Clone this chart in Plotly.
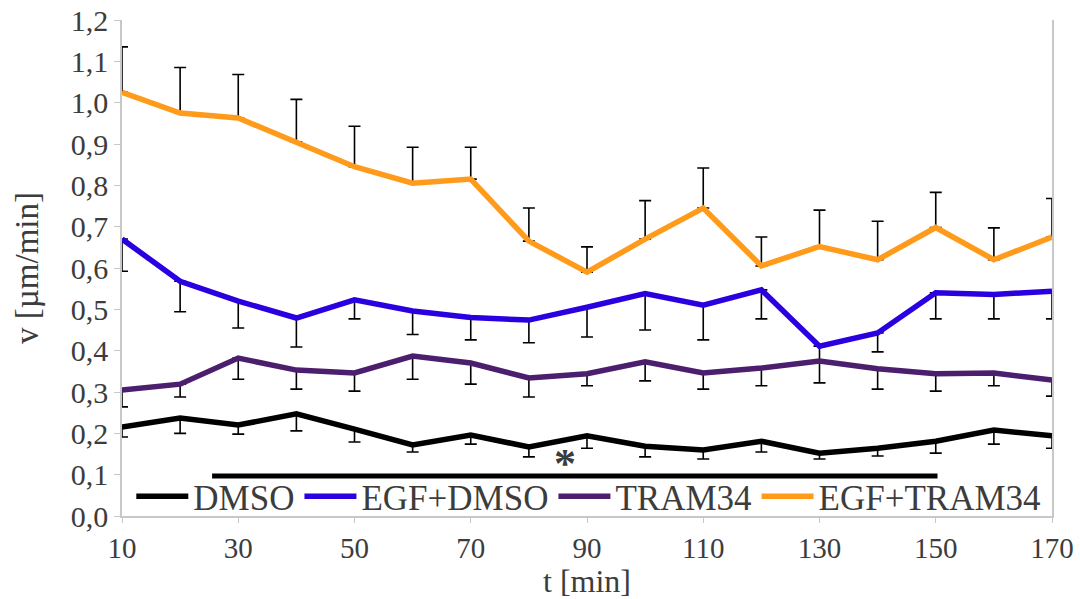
import plotly.graph_objects as go

t = [10, 20, 30, 40, 50, 60, 70, 80, 90, 100, 110, 120, 130, 140, 150, 160, 170]

dmso = [0.215, 0.237, 0.220, 0.247, 0.210, 0.172, 0.196, 0.167, 0.194, 0.169, 0.160, 0.181, 0.152, 0.164, 0.181, 0.208, 0.194]
dmso_low = [0.191, 0.200, 0.198, 0.206, 0.179, 0.155, 0.174, 0.143, 0.164, 0.143, 0.138, 0.155, 0.138, 0.145, 0.152, 0.174, 0.164]

egf_dmso = [0.670, 0.568, 0.520, 0.479, 0.523, 0.496, 0.480, 0.474, 0.505, 0.538, 0.510, 0.547, 0.411, 0.443, 0.540, 0.536, 0.544]
egf_dmso_low = [0.592, 0.494, 0.455, 0.409, 0.477, 0.439, 0.426, 0.419, 0.433, 0.450, 0.426, 0.477, 0.375, 0.397, 0.477, 0.477, 0.477]

tram34 = [0.305, 0.319, 0.382, 0.353, 0.346, 0.387, 0.370, 0.334, 0.344, 0.373, 0.346, 0.358, 0.375, 0.356, 0.344, 0.346, 0.329]
tram34_low = [0.264, 0.288, 0.331, 0.307, 0.302, 0.331, 0.319, 0.288, 0.315, 0.327, 0.307, 0.315, 0.322, 0.307, 0.302, 0.315, 0.290]

egf_tram34 = [1.025, 0.975, 0.963, 0.905, 0.845, 0.805, 0.815, 0.665, 0.590, 0.670, 0.745, 0.605, 0.652, 0.620, 0.698, 0.620, 0.675]
egf_tram34_high = [1.135, 1.085, 1.068, 1.008, 0.943, 0.892, 0.892, 0.745, 0.651, 0.763, 0.842, 0.675, 0.740, 0.713, 0.783, 0.697, 0.768]

sig_x = [25.5, 150.3]
sig_y = [0.097, 0.097]
sig_label = "*"
sig_label_pos = (86.2, 0.128)

names = ["DMSO", "EGF+DMSO", "TRAM34", "EGF+TRAM34"]
colors = ["#000000", "#2a00e0", "#4b1f6e", "#ff9a1a"]

TEXT = "#3c3c3c"
FONT = "Liberation Serif"

fig = go.Figure()

def add(y, name, color, plus=None, minus=None):
    ey = dict(type="data", symmetric=False, color="#000000", thickness=1.6, width=6,
              array=plus if plus is not None else [0] * len(y),
              arrayminus=minus if minus is not None else [0] * len(y))
    fig.add_trace(go.Scatter(x=t, y=y, mode="lines", name=name,
                             line=dict(color=color, width=5.5), error_y=ey))

add(dmso, names[0], colors[0], minus=[a - b for a, b in zip(dmso, dmso_low)])
add(egf_dmso, names[1], colors[1], minus=[a - b for a, b in zip(egf_dmso, egf_dmso_low)])
add(tram34, names[2], colors[2], minus=[a - b for a, b in zip(tram34, tram34_low)])
add(egf_tram34, names[3], colors[3], plus=[b - a for a, b in zip(egf_tram34, egf_tram34_high)])

fig.add_trace(go.Scatter(x=sig_x, y=sig_y, mode="lines", showlegend=False,
                         line=dict(color="#000000", width=5), hoverinfo="skip"))
fig.add_annotation(x=sig_label_pos[0], y=sig_label_pos[1], text="<b>" + sig_label + "</b>",
                   showarrow=False, height=26, valign="middle",
                   font=dict(family=FONT, size=44, color=TEXT))

fig.update_layout(
    width=1080, height=599,
    margin=dict(l=122, r=28, t=20, b=83),
    paper_bgcolor="white", plot_bgcolor="white",
    separators=", ",
    font=dict(family=FONT, color=TEXT, size=30),
    legend=dict(orientation="h", x=0.01, y=-0.02, xanchor="left", yanchor="bottom",
                bgcolor="rgba(0,0,0,0)", font=dict(family=FONT, size=35, color=TEXT),
                itemwidth=52, tracegroupgap=0),
    xaxis=dict(range=[10, 170], tickvals=list(range(10, 171, 20)), showgrid=False, zeroline=False,
               automargin=False,
               showline=True, linecolor="#c8c8c8", linewidth=1.5, ticks="outside", ticklen=5,
               tickcolor="#c8c8c8", tickfont=dict(size=29, color=TEXT),
               title=dict(text="t [min]", font=dict(size=32, color=TEXT), standoff=2)),
    yaxis=dict(range=[0, 1.2], dtick=0.1, tickformat=".1f", showgrid=False, zeroline=False,
               automargin=False,
               showline=True, mirror=True, linecolor="#c8c8c8", linewidth=1.5, ticks="outside",
               ticklen=6, tickcolor="#c8c8c8", tickfont=dict(size=30, color=TEXT),
               title=dict(text="v [µm/min]", font=dict(size=33, color=TEXT), standoff=22)),
)

fig.write_html("out.html")
